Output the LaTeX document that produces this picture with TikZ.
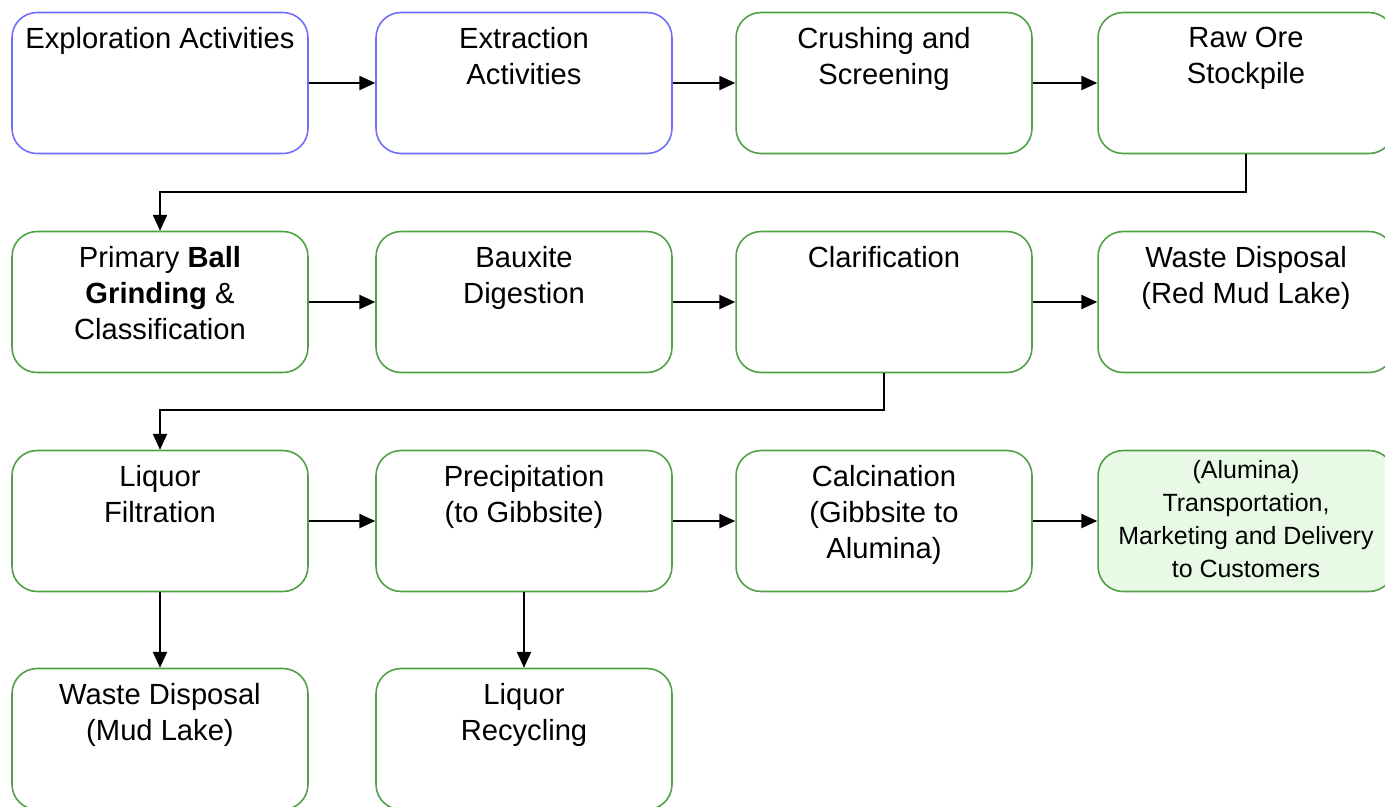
\documentclass[tikz,border=0pt]{standalone}
\usepackage{fontspec}
\setmainfont{Liberation Sans}
\usetikzlibrary{positioning, arrows.meta}
\definecolor{boxblue}{RGB}{110,110,250}
\definecolor{boxgreen}{RGB}{80,160,70}
\definecolor{palegreen}{RGB}{232,250,230}
\tikzstyle{proc} = [draw=boxgreen, line width=0.9pt, rounded corners=0.5cm,
minimum width=5.92cm, minimum height=2.82cm, inner sep=0pt]
\tikzstyle{blueproc} = [proc, draw=boxblue]
\tikzstyle{txt} = [align=center, inner sep=0pt, font=\fontsize{16.6}{20.4}\selectfont]
\tikzstyle{smalltxt} = [align=center, inner sep=0pt, font=\fontsize{14.2}{18.7}\selectfont]
\tikzstyle{flow} = [-{Triangle[length=9pt, width=8pt]}, line width=1pt]

\begin{document}
\begin{tikzpicture}[x=0.02cm, y=-0.02cm]
                    \clip (0, 0) rectangle (1385, 806);
                    % row 1
                    \node[blueproc] (expl) at (160, 83) {};
                    \node[blueproc] (extr) at (524, 83) {};
                    \node[proc] (crush) at (884, 83) {};
                    \node[proc] (ore) at (1246, 83) {};
                    % row 2
                    \node[proc] (grind) at (160, 302) {};
                    \node[proc] (digest) at (524, 302) {};
                    \node[proc] (clar) at (884, 302) {};
                    \node[proc] (redmud) at (1246, 302) {};
                    % row 3
                    \node[proc] (filt) at (160, 521) {};
                    \node[proc] (precip) at (524, 521) {};
                    \node[proc] (calc) at (884, 521) {};
                    \node[proc, fill=palegreen] (deliv) at (1246, 521) {};
                    % row 4
                    \node[proc] (mud) at (160, 739) {};
                    \node[proc] (recyc) at (524, 739) {};

                    \node[txt, below=8.8pt of expl.north] (explTxt) {Exploration Activities};
                    \node[txt, below=8.8pt of extr.north] (extrTxt) {Extraction\\Activities};
                    \node[txt, below=8.8pt of crush.north] (crushTxt) {Crushing and\\Screening};
                    \node[txt, below=8.8pt of ore.north] (oreTxt) {Raw Ore\\Stockpile};
                    \node[txt, below=8.8pt of grind.north] (grindTxt) {Primary \textbf{Ball}\\\textbf{Grinding} \&\\Classification};
                    \node[txt, below=8.8pt of digest.north] (digestTxt) {Bauxite\\Digestion};
                    \node[txt, below=8.8pt of clar.north] (clarTxt) {Clarification};
                    \node[txt, below=8.8pt of redmud.north] (redmudTxt) {Waste Disposal\\(Red Mud Lake)};
                    \node[txt, below=8.8pt of filt.north] (filtTxt) {Liquor\\Filtration};
                    \node[txt, below=8.8pt of precip.north] (precipTxt) {Precipitation\\(to Gibbsite)};
                    \node[txt, below=8.8pt of calc.north] (calcTxt) {Calcination\\(Gibbsite to\\Alumina)};
                    \node[smalltxt, below=6pt of deliv.north] (delivTxt) {(Alumina)\\Transportation,\\Marketing and Delivery\\to Customers};
                    \node[txt, below=8.8pt of mud.north] (mudTxt) {Waste Disposal\\(Mud Lake)};
                    \node[txt, below=8.8pt of recyc.north] (recycTxt) {Liquor\\Recycling};

                    \coordinate (turn1) at (1246, 192);
                    \coordinate (turn2) at (884, 410);
                    \draw[flow] (expl)--(extr);
                    \draw[flow] (extr)--(crush);
                    \draw[flow] (crush)--(ore);
                    \draw[flow] (ore)--(turn1)-|(grind);
                    \draw[flow] (grind)--(digest);
                    \draw[flow] (digest)--(clar);
                    \draw[flow] (clar)--(redmud);
                    \draw[flow] (clar)--(turn2)-|(filt);
                    \draw[flow] (filt)--(precip);
                    \draw[flow] (precip)--(calc);
                    \draw[flow] (calc)--(deliv);
                    \draw[flow] (filt)--(mud);
                    \draw[flow] (precip)--(recyc);
                \end{tikzpicture}
\end{document}
